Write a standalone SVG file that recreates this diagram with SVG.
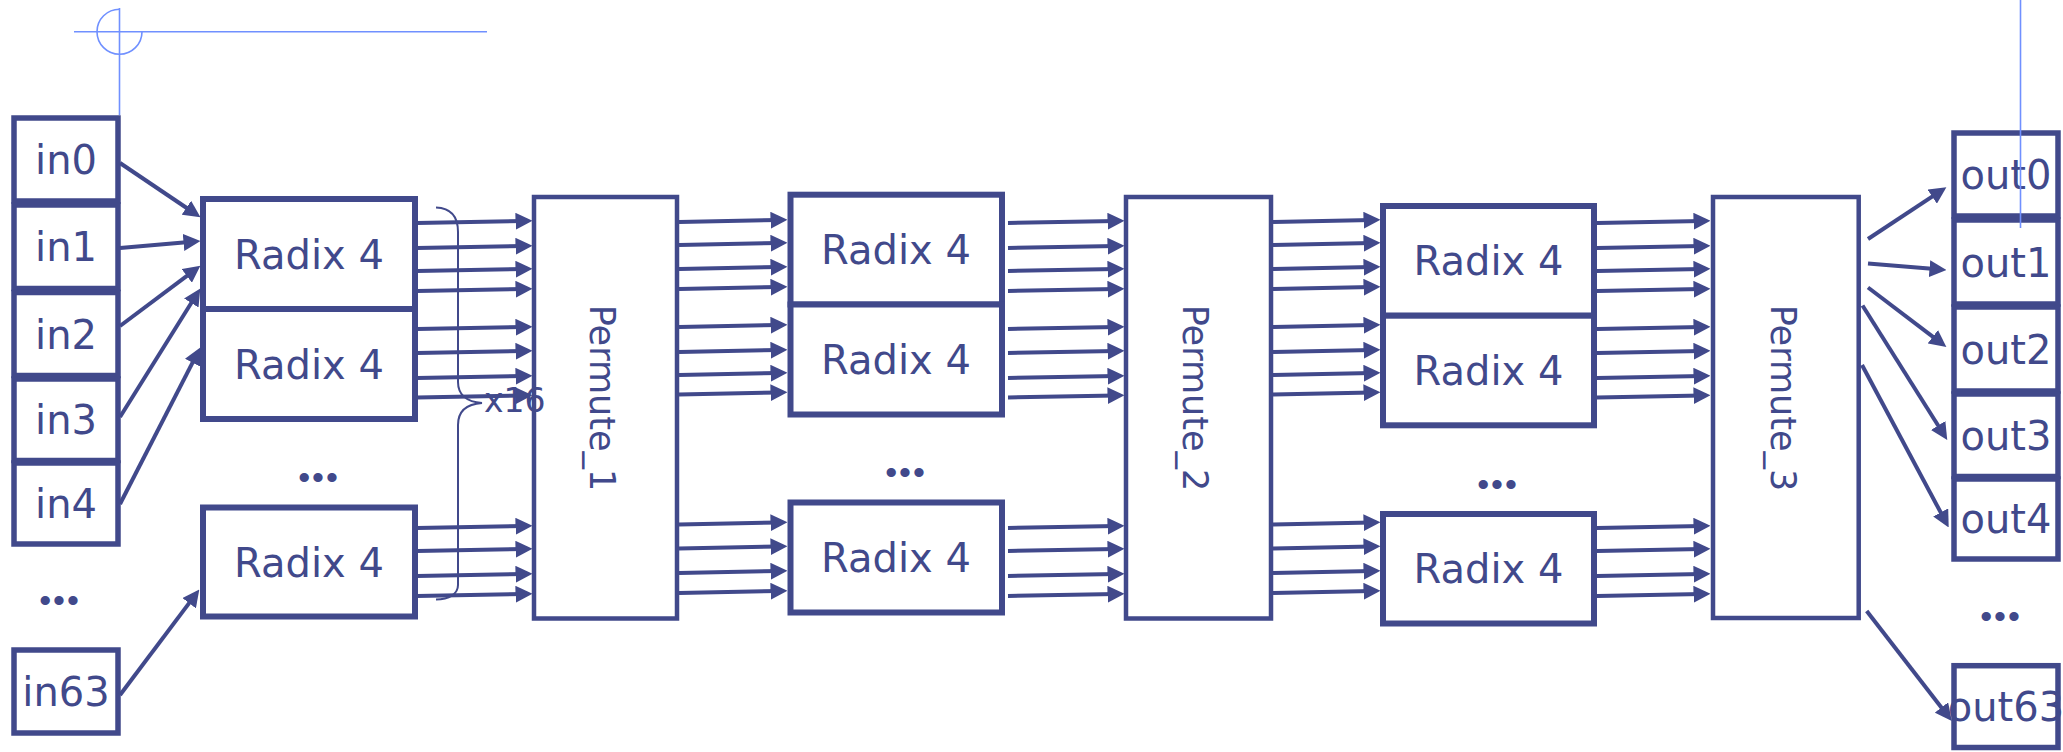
<svg xmlns="http://www.w3.org/2000/svg" width="2063" height="752" viewBox="0 0 2063 752">
<style>
.box{fill:#fff;stroke:#41498b;stroke-width:5.5}
.rdx{fill:#fff;stroke:#41498b;stroke-width:6}
.perm{fill:#fff;stroke:#41498b;stroke-width:4.5}
.lbl{font-family:"DejaVu Sans","Liberation Sans",sans-serif;font-size:40px;fill:#41498b;text-anchor:middle}
.plbl{font-family:"DejaVu Sans","Liberation Sans",sans-serif;font-size:35px;fill:#41498b;text-anchor:middle}
.dots{font-family:"Liberation Sans",sans-serif;font-size:34px;fill:#41498b;text-anchor:middle;letter-spacing:2px}
.note{font-family:"DejaVu Sans","Liberation Sans",sans-serif;font-size:33px;fill:#41498b}
.c line{stroke:#41498b;stroke-width:4;marker-end:url(#ah)}
.guide{fill:none;stroke:#7090ff;stroke-width:1.6}
</style>
<defs>
<marker id="ah" markerUnits="userSpaceOnUse" viewBox="0 0 17 17" markerWidth="17" markerHeight="17" refX="8.5" refY="8.5" orient="auto">
<path d="M0,0 L17,8.5 L0,17 z" fill="#41498b"/>
</marker>
</defs>
<rect width="2063" height="752" fill="#fff"/>

<g id="in0"><rect class="box" x="14" y="118" width="104" height="83"/><text class="lbl" x="66" y="174">in0</text></g>
<g id="in1"><rect class="box" x="14" y="205" width="104" height="83.5"/><text class="lbl" x="66" y="261">in1</text></g>
<g id="in2"><rect class="box" x="14" y="292.5" width="104" height="83"/><text class="lbl" x="66" y="348.5">in2</text></g>
<g id="in3"><rect class="box" x="14" y="379" width="104" height="81.5"/><text class="lbl" x="66" y="434">in3</text></g>
<g id="in4"><rect class="box" x="14" y="463" width="104" height="81"/><text class="lbl" x="66" y="518">in4</text></g>
<g id="in_dots"><text class="dots" x="60" y="612">•••</text></g>
<g id="in63"><rect class="box" x="14" y="650" width="104" height="83"/><text class="lbl" x="66" y="706">in63</text></g>

<g id="radix1_1"><rect class="rdx" x="203" y="199" width="212" height="110"/><text class="lbl" x="309" y="268.5">Radix 4</text></g>
<g id="radix1_2"><rect class="rdx" x="203" y="309" width="212" height="110"/><text class="lbl" x="309" y="378.5">Radix 4</text></g>
<g id="radix1_dots"><text class="dots" x="319" y="488.5">•••</text></g>
<g id="radix1_3"><rect class="rdx" x="203" y="507.5" width="212" height="109"/><text class="lbl" x="309" y="576.5">Radix 4</text></g>

<g id="permute1"><rect class="perm" x="534" y="197" width="143" height="421.5"/><text class="plbl" transform="translate(590,398) rotate(90)">Permute_1</text></g>

<g id="radix2_1"><rect class="rdx" x="790.5" y="194.7" width="211.5" height="109.8"/><text class="lbl" x="896" y="264.3">Radix 4</text></g>
<g id="radix2_2"><rect class="rdx" x="790.5" y="304.5" width="211.5" height="110"/><text class="lbl" x="896" y="374">Radix 4</text></g>
<g id="radix2_dots"><text class="dots" x="906" y="483.5">•••</text></g>
<g id="radix2_3"><rect class="rdx" x="790.5" y="502.5" width="211.5" height="110"/><text class="lbl" x="896" y="572">Radix 4</text></g>

<g id="permute2"><rect class="perm" x="1126" y="197" width="145" height="421.5"/><text class="plbl" transform="translate(1183,398) rotate(90)">Permute_2</text></g>

<g id="radix3_1"><rect class="rdx" x="1383" y="206" width="211" height="109.7"/><text class="lbl" x="1488.5" y="275.3">Radix 4</text></g>
<g id="radix3_2"><rect class="rdx" x="1383" y="315.7" width="211" height="109.6"/><text class="lbl" x="1488.5" y="385">Radix 4</text></g>
<g id="radix3_dots"><text class="dots" x="1498" y="495.5">•••</text></g>
<g id="radix3_3"><rect class="rdx" x="1383" y="514" width="211" height="109.5"/><text class="lbl" x="1488.5" y="583">Radix 4</text></g>

<g id="permute3"><rect class="perm" x="1713" y="197" width="145.7" height="421"/><text class="plbl" transform="translate(1771,398) rotate(90)">Permute_3</text></g>

<g id="out0"><text class="lbl" x="2006" y="188.5">out0</text><rect class="box" style="fill:none" x="1954" y="133" width="104" height="83"/></g>
<g id="out1"><text class="lbl" x="2006" y="276.5">out1</text><rect class="box" style="fill:none" x="1954" y="220" width="104" height="84"/></g>
<g id="out2"><text class="lbl" x="2006" y="363.5">out2</text><rect class="box" style="fill:none" x="1954" y="307" width="104" height="84"/></g>
<g id="out3"><text class="lbl" x="2006" y="449.5">out3</text><rect class="box" style="fill:none" x="1954" y="394" width="104" height="82.5"/></g>
<g id="out4"><text class="lbl" x="2006" y="533">out4</text><rect class="box" style="fill:none" x="1954" y="479" width="104" height="80"/></g>
<g id="out_dots"><text class="dots" x="2001" y="627.5">•••</text></g>
<g id="out63"><text class="lbl" x="2006" y="721">out63</text><rect class="box" style="fill:none" x="1954" y="665.7" width="104" height="81.8"/></g>

<g id="connectors" class="c">
<line x1="120" y1="163" x2="193.4" y2="212.5"/>
<line x1="120" y1="248" x2="192" y2="241.7"/>
<line x1="120" y1="326" x2="193.6" y2="270.8"/>
<line x1="120" y1="417" x2="195.8" y2="295.8"/>
<line x1="120" y1="504" x2="196.4" y2="355.1"/>
<line x1="120" y1="695" x2="194.2" y2="596.4"/>

<line x1="417" y1="223" x2="524" y2="221"/>
<line x1="417" y1="248" x2="524" y2="246"/>
<line x1="417" y1="271" x2="524" y2="269"/>
<line x1="417" y1="291" x2="524" y2="289"/>
<line x1="417" y1="329" x2="524" y2="327"/>
<line x1="417" y1="353" x2="524" y2="351"/>
<line x1="417" y1="378" x2="524" y2="376"/>
<line x1="417" y1="397.5" x2="524" y2="395.5"/>
<line x1="417" y1="528" x2="524" y2="526"/>
<line x1="417" y1="551" x2="524" y2="549"/>
<line x1="417" y1="576" x2="524" y2="574"/>
<line x1="417" y1="596" x2="524" y2="594"/>

<line x1="679" y1="222" x2="779" y2="220"/>
<line x1="679" y1="245" x2="779" y2="243"/>
<line x1="679" y1="269" x2="779" y2="267"/>
<line x1="679" y1="289" x2="779" y2="287"/>
<line x1="679" y1="327" x2="779" y2="325"/>
<line x1="679" y1="352" x2="779" y2="350"/>
<line x1="679" y1="375" x2="779" y2="373"/>
<line x1="679" y1="394.5" x2="779" y2="392.5"/>
<line x1="679" y1="524.5" x2="779" y2="522.5"/>
<line x1="679" y1="548.5" x2="779" y2="546.5"/>
<line x1="679" y1="573" x2="779" y2="571"/>
<line x1="679" y1="593" x2="779" y2="591"/>

<line x1="1008" y1="223" x2="1116" y2="221"/>
<line x1="1008" y1="248" x2="1116" y2="246"/>
<line x1="1008" y1="271" x2="1116" y2="269"/>
<line x1="1008" y1="291" x2="1116" y2="289"/>
<line x1="1008" y1="329" x2="1116" y2="327"/>
<line x1="1008" y1="353" x2="1116" y2="351"/>
<line x1="1008" y1="378" x2="1116" y2="376"/>
<line x1="1008" y1="397.5" x2="1116" y2="395.5"/>
<line x1="1008" y1="528" x2="1116" y2="526"/>
<line x1="1008" y1="551" x2="1116" y2="549"/>
<line x1="1008" y1="576" x2="1116" y2="574"/>
<line x1="1008" y1="596" x2="1116" y2="594"/>

<line x1="1273" y1="222" x2="1372" y2="220"/>
<line x1="1273" y1="245" x2="1372" y2="243"/>
<line x1="1273" y1="269" x2="1372" y2="267"/>
<line x1="1273" y1="289" x2="1372" y2="287"/>
<line x1="1273" y1="327" x2="1372" y2="325"/>
<line x1="1273" y1="352" x2="1372" y2="350"/>
<line x1="1273" y1="375" x2="1372" y2="373"/>
<line x1="1273" y1="394.5" x2="1372" y2="392.5"/>
<line x1="1273" y1="524.5" x2="1372" y2="522.5"/>
<line x1="1273" y1="548.5" x2="1372" y2="546.5"/>
<line x1="1273" y1="573" x2="1372" y2="571"/>
<line x1="1273" y1="593" x2="1372" y2="591"/>

<line x1="1597" y1="223" x2="1702" y2="221"/>
<line x1="1597" y1="248" x2="1702" y2="246"/>
<line x1="1597" y1="271" x2="1702" y2="269"/>
<line x1="1597" y1="291" x2="1702" y2="289"/>
<line x1="1597" y1="329" x2="1702" y2="327"/>
<line x1="1597" y1="353" x2="1702" y2="351"/>
<line x1="1597" y1="378" x2="1702" y2="376"/>
<line x1="1597" y1="397.5" x2="1702" y2="395.5"/>
<line x1="1597" y1="528" x2="1702" y2="526"/>
<line x1="1597" y1="551" x2="1702" y2="549"/>
<line x1="1597" y1="576" x2="1702" y2="574"/>
<line x1="1597" y1="596" x2="1702" y2="594"/>

<line x1="1868" y1="239" x2="1939.3" y2="191.9"/>
<line x1="1868" y1="263.5" x2="1938" y2="269.3"/>
<line x1="1868" y1="287.5" x2="1939.6" y2="341.9"/>
<line x1="1862.5" y1="305.5" x2="1942.7" y2="432.7"/>
<line x1="1862" y1="365" x2="1944.7" y2="519.9"/>
<line x1="1866.7" y1="611" x2="1946.6" y2="714.2"/>
</g>

<g id="brace_x16">
<path d="M436,207.5 C451,208 458,217 458,232 L458,382 C458,395 467,402 482,403 C467,404 458,411 458,425 L458,585 C458,594 449,599.5 436,599.5" fill="none" stroke="#41498b" stroke-width="2"/>
<text class="note" x="484" y="411.7">x16</text>
</g>

<g id="guides">
<line class="guide" x1="119.5" y1="8" x2="119.5" y2="115"/>
<line class="guide" x1="74" y1="31.7" x2="487" y2="31.7"/>
<path class="guide" d="M119.5,9.2 A22.5,22.5 0 1 0 142,31.7"/>
<line class="guide" x1="2020.5" y1="0" x2="2020.5" y2="228"/>
</g>
</svg>
